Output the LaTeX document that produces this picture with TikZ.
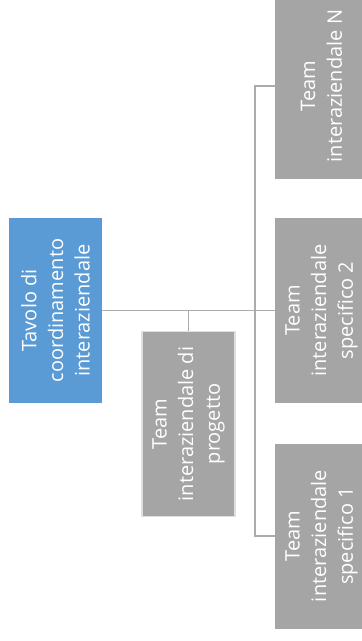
\documentclass[tikz,border=0pt]{standalone}
\usepackage{fontspec}
\setmainfont{Open Sans}
\definecolor{tblue}{HTML}{5B9BD5}
\definecolor{tgray}{HTML}{A5A5A5}
\definecolor{tline}{HTML}{ABABAB}
\begin{document}
\begin{tikzpicture}[
    x=1pt, y=-1pt,
    box/.style={rectangle, fill=tgray, text=white, rotate=90, minimum width=185pt, minimum height=93pt, inner sep=0pt, align=center, font=\fontsize{20}{26.7}\selectfont},
    head/.style={box, fill=tblue},
    link/.style={draw=tline, line width=1.5pt}
]
    \useasboundingbox (0,0) rectangle (362,641);

    % Boxes
    \node[head] (tavolo) at (55.5,310.5) {Tavolo di\\coordinamento\\interaziendale};
    \node[box, draw=gray!25, line width=1.5pt] (progetto) at (188.5,424) {Team\\interaziendale di\\progetto};
    \node[box] (teamN) at (321.5,86) {Team\\interaziendale N};
    \node[box] (spec2) at (321.5,310.5) {Team\\interaziendale\\specifico 2};
    \node[box] (spec1) at (321.5,536) {Team\\interaziendale\\specifico 1};

    \coordinate (bus) at (255,310.5);

    % Connections
    \draw[link] (tavolo.south) -- (spec2.north);
    \draw[link] (progetto.east) -- (progetto.east |- tavolo.south);
    \draw[link] (teamN.north) -| (bus) |- (spec1.north);

\end{tikzpicture}
\end{document}
